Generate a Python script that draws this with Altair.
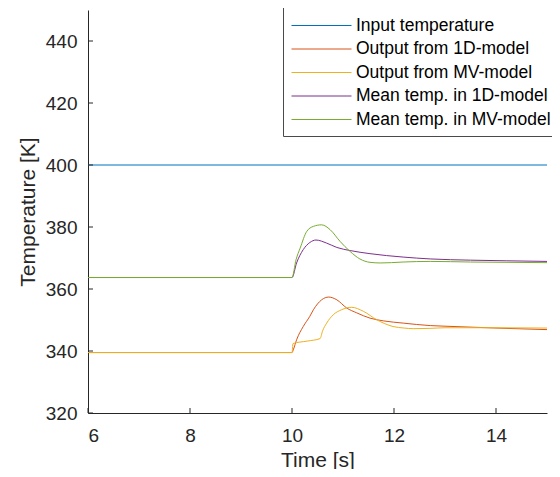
import altair as alt
import pandas as pd

series_names = ["Input temperature", "Output from 1D-model", "Output from MV-model",
                "Mean temp. in 1D-model", "Mean temp. in MV-model"]
series_colors = ["#0072BD", "#D95319", "#EDB120", "#7E2F8E", "#77AC30"]

t_input = [6.0, 15.0]
v_input = [400.0, 400.0]

t_out1d = [6.0, 10.0, 10.03, 10.09, 10.22, 10.35, 10.42, 10.58, 10.72, 10.88, 11.07, 11.27,
           11.53, 11.8, 12.18, 12.71, 13.0, 14.0, 15.0]
v_out1d = [339.5, 339.5, 340.6, 343.6, 347.9, 351.2, 353.3, 356.5, 357.4, 356.5, 353.9, 352.3,
           350.6, 349.7, 349.0, 348.2, 348.0, 347.4, 346.9]

t_outmv = [6.0, 10.0, 10.02, 10.3, 10.55, 10.6, 10.68, 10.81, 10.97, 11.17, 11.4, 11.66,
           11.98, 12.2, 12.375, 12.71, 13.0, 14.0, 15.0]
v_outmv = [339.5, 339.5, 342.4, 343.2, 344.0, 346.5, 349.0, 351.7, 353.3, 354.1, 352.8, 350.1,
           347.9, 347.4, 347.2, 347.3, 347.5, 347.5, 347.4]

t_mean1d = [6.0, 10.0, 10.09, 10.22, 10.35, 10.47, 10.68, 10.88, 11.14, 11.53, 12.18, 12.71,
            13.5, 14.2, 15.0]
v_mean1d = [363.7, 363.7, 368.4, 372.7, 375.0, 375.8, 374.8, 373.4, 372.4, 371.4, 370.3, 369.7,
            369.3, 369.1, 368.9]

t_meanmv = [6.0, 10.0, 10.08, 10.16, 10.29, 10.42, 10.58, 10.75, 10.94, 11.14, 11.33, 11.53,
            11.73, 11.95, 12.18, 12.71, 13.5, 15.0]
v_meanmv = [363.7, 363.7, 369.5, 373.2, 378.6, 380.2, 380.7, 379.1, 375.4, 372.1, 369.7, 368.6,
            368.4, 368.5, 368.7, 368.9, 368.7, 368.5]

x_ticks = [6, 8, 10, 12, 14]
y_ticks = [320, 340, 360, 380, 400, 420, 440]

rows = []
for name, ts, vs in zip(series_names,
                        [t_input, t_out1d, t_outmv, t_mean1d, t_meanmv],
                        [v_input, v_out1d, v_outmv, v_mean1d, v_meanmv]):
    for i, (t, v) in enumerate(zip(ts, vs)):
        rows.append({"series": name, "t": t, "v": v, "i": i})
df = pd.DataFrame(rows)

W, H = 459, 403
FONT = "Liberation Sans"
INK = "#262626"

x_scale = alt.Scale(domain=[6, 15], nice=False, zero=False)
y_scale = alt.Scale(domain=[320, 450], nice=False, zero=False)

x_axis = alt.Axis(title="Time [s]", values=x_ticks, ticks=False, grid=False,
                  labelPadding=13, titlePadding=4)
y_axis = alt.Axis(title="Temperature [K]", values=y_ticks, ticks=False, grid=False,
                  labelPadding=11, titlePadding=7)

lines = alt.Chart(df).mark_line(strokeWidth=1, clip=True, interpolate="monotone").encode(
    x=alt.X("t:Q", scale=x_scale, axis=x_axis),
    y=alt.Y("v:Q", scale=y_scale, axis=y_axis),
    color=alt.Color("series:N", sort=series_names,
                    scale=alt.Scale(domain=series_names, range=series_colors),
                    legend=alt.Legend(title=None, orient="none", legendX=195, legendY=-3,
                                      direction="vertical", padding=8,
                                      strokeColor="#4a4a4a", fillColor="white",
                                      symbolType="M-1,0H5", symbolSize=400,
                                      symbolStrokeWidth=1, labelOffset=44,
                                      labelFont=FONT, labelFontSize=17.5, labelColor="#000000",
                                      labelLimit=400, rowPadding=4.5)),
    order="i:Q",
)

xt = alt.Chart(pd.DataFrame({"t": x_ticks})).mark_rule(color=INK, strokeWidth=1).encode(
    x=alt.X("t:Q", scale=x_scale, axis=x_axis),
    y=alt.value(H), y2=alt.value(H - 5),
)
yt = alt.Chart(pd.DataFrame({"v": y_ticks})).mark_rule(color=INK, strokeWidth=1).encode(
    y=alt.Y("v:Q", scale=y_scale, axis=y_axis),
    x=alt.value(0), x2=alt.value(5),
)

chart = alt.layer(lines, xt, yt).properties(
    width=W, height=H,
    autosize=alt.AutoSizeParams(type="none"),
    padding={"left": 80, "top": 2, "right": 5, "bottom": 56},
).configure_view(stroke=None).configure_axis(
    domainColor=INK, domainWidth=1,
    labelFont=FONT, labelFontSize=19, labelColor=INK,
    titleFont=FONT, titleFontSize=21, titleColor=INK, titleFontWeight="normal",
)

chart.save("out.html", embed_options={"renderer": "svg", "actions": False})
